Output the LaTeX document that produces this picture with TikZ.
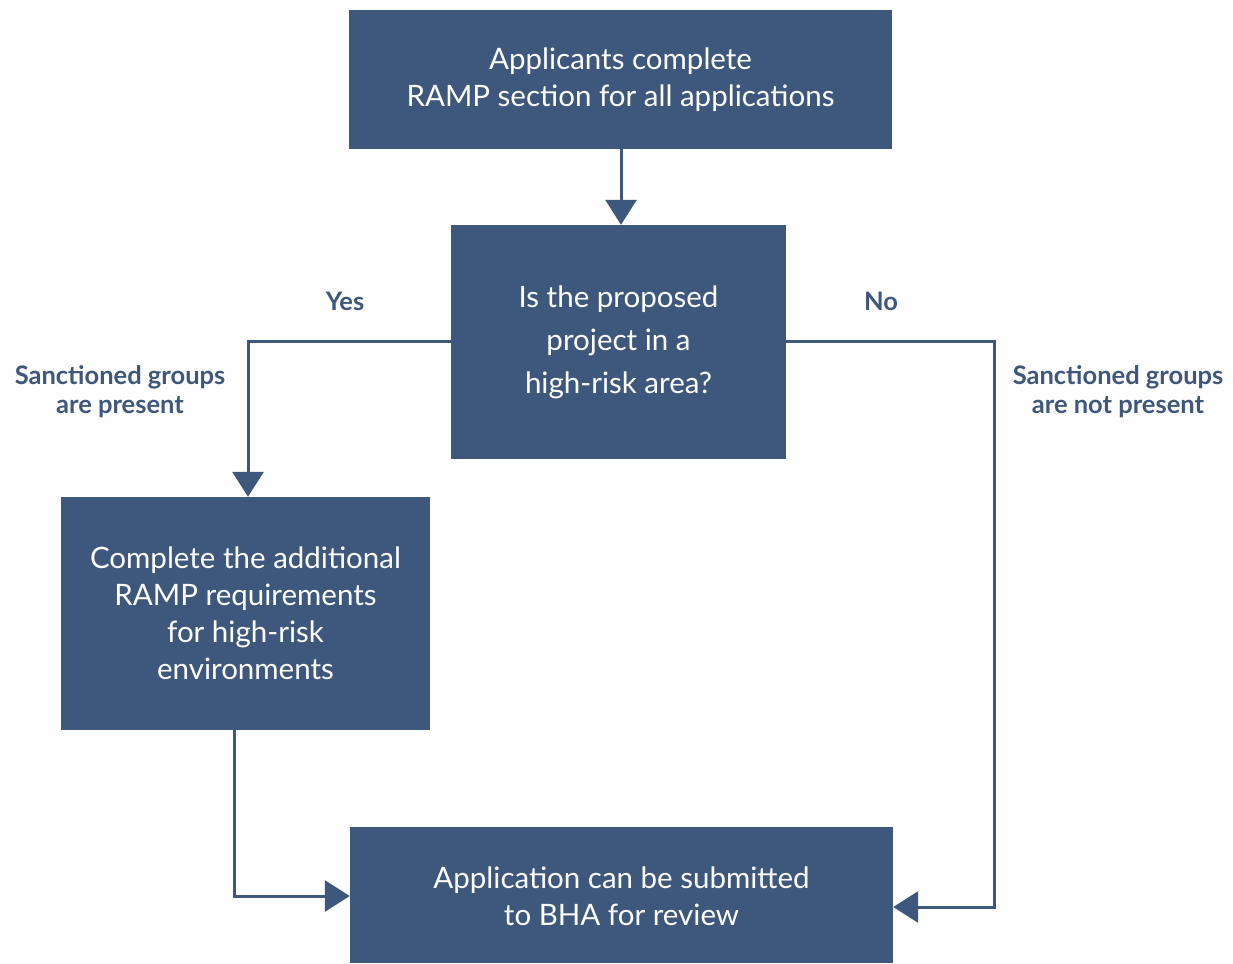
\documentclass[tikz,border=0pt]{standalone}
\usepackage{fontspec}
\setmainfont{Lato}
\usetikzlibrary{arrows.meta,calc}
\definecolor{rampblue}{HTML}{3E577C}
\begin{document}
\begin{tikzpicture}[x=1pt,y=-1pt,
  box/.style={fill=rampblue,draw=none,text=white,align=center,inner sep=0pt,font=\fontsize{29.5}{37}\selectfont},
  conn/.style={draw=rampblue,line width=3pt,-{Triangle[width=31pt,length=25pt]}},
  lbl/.style={text=rampblue,align=center,font=\bfseries\fontsize{25.5}{29}\selectfont,inner sep=0pt}]
\useasboundingbox (0,0) rectangle (1233,963);
\fill[white!99.5!black] (0,0) rectangle (1233,963);
\node[box,minimum width=543pt,minimum height=139pt] (top) at (620.5,79.5) {Applicants complete\\RAMP section for all applications};
\node[box,minimum width=335pt,minimum height=234pt,font=\fontsize{29.5}{43}\selectfont] (dec) at (618.5,342) {Is the proposed\\project in a\\high-risk area?};
\node[box,minimum width=369pt,minimum height=233pt] (left) at (245.5,613.5) {Complete the additional\\RAMP requirements\\for high-risk\\environments};
\node[box,minimum width=543pt,minimum height=136pt] (bot) at (621.5,895) {};
\node[text=white,align=center,font=\fontsize{29.5}{37}\selectfont,inner sep=0pt] (bottxt) at (621.5,896) {Application can be submitted\\to BHA for review};
\coordinate (ya) at (248,341);
\coordinate (lb) at (234,896);
\coordinate (na) at (994,341);
\coordinate (nb) at (994,907);
\draw[conn] (top.south -| 621,0) -- (dec.north -| 621,0);
\draw[conn] (dec.west |- ya) -- (ya) -- (left.north -| ya);
\draw[conn] (left.south -| lb) -- (lb) -- (bot.west |- lb);
\draw[conn] (dec.east |- na) -- (na) -- (nb) -- (bot.east |- nb);
\node[lbl] (yes) at (345,301) {Yes};
\node[lbl] (no) at (881,301) {No};
\node[lbl] (sp) at (120,392) {Sanctioned groups\\are present};
\node[lbl] (snp) at (1118,392) {Sanctioned groups\\are not present};
\end{tikzpicture}
\end{document}
